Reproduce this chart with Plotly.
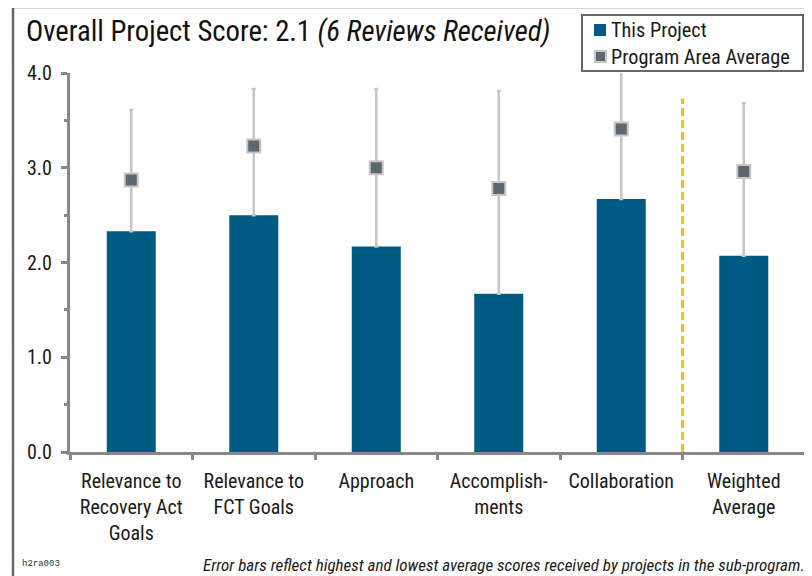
import plotly.graph_objects as go

categories = ["Relevance to<br>Recovery Act<br>Goals", "Relevance to<br>FCT Goals", "Approach",
              "Accomplish-<br>ments", "Collaboration", "Weighted<br>Average"]
project_scores = [2.33, 2.50, 2.17, 1.67, 2.67, 2.07]
program_avg = [2.87, 3.23, 3.00, 2.78, 3.41, 2.96]
program_high = [3.61, 3.83, 3.83, 3.81, 4.05, 3.68]
program_low = [2.33, 2.50, 2.17, 1.67, 2.67, 2.07]
divider_top = 3.73

FONT = "Roboto Condensed, Liberation Sans Narrow, sans-serif"
PAGE_W, PAGE_H = 812, 576
OFF = 8  # default body margin of the html page
W, H = PAGE_W - OFF, PAGE_H - OFF
# plot area in page pixels
L, R, T, B = 70, 805, 73, 452
pw, ph = R - L, B - T
BAR = "#005b82"
MARK = "#5b6771"
MARK_EDGE = "#c6c6c6"
FRAME = "#5f6b73"
AXIS = "#888888"
TXT = "#1a1a1a"


def px(x):
    return (x - L) / pw


def py(y):
    return (B - y) / ph


fig = go.Figure()
fig.add_trace(go.Bar(
    x=categories, y=project_scores, name="This Project",
    marker=dict(color=BAR, line=dict(width=0)), width=0.4,
))
fig.add_trace(go.Scatter(
    x=categories, y=program_avg, name="Program Area Average", mode="markers",
    cliponaxis=False,
    marker=dict(symbol="square", size=13, color=MARK, line=dict(color=MARK_EDGE, width=2)),
    error_y=dict(type="data", symmetric=False,
                 array=[h - a for h, a in zip(program_high, program_avg)],
                 arrayminus=[a - l for a, l in zip(program_avg, program_low)],
                 color=MARK_EDGE, thickness=2.5, width=2),
))

fig.update_layout(
    width=W, height=H,
    margin=dict(l=L - OFF, r=W - (R - OFF), t=T - OFF, b=H - (B - OFF), autoexpand=False),
    plot_bgcolor="white", paper_bgcolor="white",
    font=dict(family=FONT, size=20, color=TXT),
    showlegend=False,
    xaxis=dict(type="category", showline=True, linecolor=AXIS, linewidth=3, automargin=False,
               ticks="outside", tickson="boundaries", ticklen=5, tickwidth=3, tickcolor=AXIS,
               ticklabelstandoff=9,
               range=[-0.5, 5.5], showgrid=False, tickfont=dict(size=20, color=TXT)),
    yaxis=dict(range=[0, 4], dtick=1, tickformat=".1f", showline=True, linecolor=AXIS, automargin=False,
               linewidth=3, ticks="outside", ticklen=6, tickwidth=3, tickcolor=AXIS,
               ticklabelstandoff=5,
               showgrid=False, zeroline=False, tickfont=dict(size=20, color=TXT),
               minor=dict(dtick=0.5, ticks="outside", ticklen=3, tickwidth=3, tickcolor=AXIS)),
)

# divider between criteria and weighted average
fig.add_shape(type="line", xref="x", yref="y", x0=4.5, x1=4.5, y0=0, y1=divider_top,
              line=dict(color="#ffc000", width=3, dash="8px,4px"))
# outer frame
fig.add_shape(type="rect", xref="paper", yref="paper", x0=px(13), x1=px(830), y0=py(600), y1=py(7),
              line=dict(color=FRAME, width=2.5), layer="below")

# legend box (drawn above the traces)
fig.add_shape(type="rect", xref="paper", yref="paper", x0=px(582), x1=px(803), y0=py(71), y1=py(15),
              line=dict(color=FRAME, width=2), fillcolor="white", layer="above")
fig.add_shape(type="rect", xref="paper", yref="paper", x0=px(594), x1=px(606), y0=py(36), y1=py(24),
              line=dict(width=0), fillcolor=BAR, layer="above")
fig.add_shape(type="rect", xref="paper", yref="paper", x0=px(595), x1=px(606), y0=py(62), y1=py(51),
              line=dict(color=MARK_EDGE, width=2), fillcolor=MARK, layer="above")
fig.add_annotation(xref="paper", yref="paper", x=px(609), y=py(30), xanchor="left", yanchor="middle",
                   text="This Project", showarrow=False, font=dict(family=FONT, size=20.3, color=TXT))
fig.add_annotation(xref="paper", yref="paper", x=px(609), y=py(57), xanchor="left", yanchor="middle",
                   text="Program Area Average", showarrow=False, font=dict(family=FONT, size=20.3, color=TXT))

# title
fig.add_annotation(xref="paper", yref="paper", x=px(24), y=py(31), xanchor="left", yanchor="middle",
                   text="Overall Project Score: 2.1 <i>(6 Reviews Received)</i>", showarrow=False,
                   font=dict(family=FONT, size=28.7, color="#111111"))
# footer
fig.add_annotation(xref="paper", yref="paper", x=px(20), y=py(564), xanchor="left", yanchor="middle",
                   text="h2ra003", showarrow=False,
                   font=dict(family="Liberation Mono, DejaVu Sans Mono, monospace", size=9, color="#333333"))
fig.add_annotation(xref="paper", yref="paper", x=px(807), y=py(565), xanchor="right", yanchor="middle",
                   text="<i>Error bars reflect highest and lowest average scores received by projects in the sub-program.</i>",
                   showarrow=False, font=dict(family=FONT, size=17, color=TXT))

fig.write_html("out.html")
